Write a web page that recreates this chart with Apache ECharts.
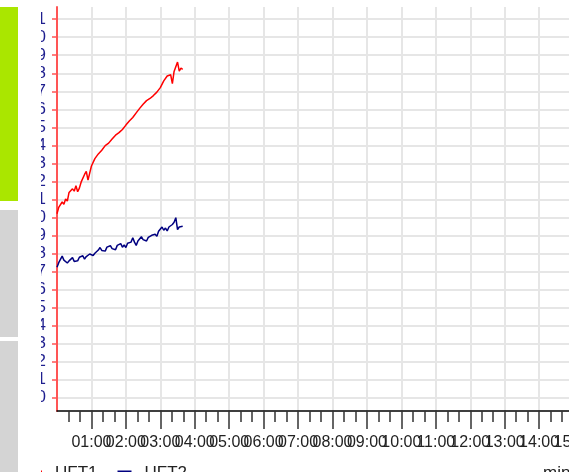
<!DOCTYPE html>
<html>
<head>
<meta charset="utf-8">
<script src="https://cdn.jsdelivr.net/npm/echarts@6/dist/echarts.min.js"></script>
<style>
  html, body { margin: 0; padding: 0; background: #fff; width: 569px; height: 472px; overflow: hidden; }
  .panel { position: absolute; left: 0; width: 18px; }
  #chart { position: absolute; left: 41px; top: 0; width: 528px; height: 472px; }
</style>
</head>
<body>
<div class="panel" style="top:7px;height:194px;background:#aae600;"></div>
<div class="panel" style="top:210px;height:127px;background:#d4d4d4;"></div>
<div class="panel" style="top:341px;height:131px;background:#d4d4d4;"></div>
<div id="chart"></div>
<script>
// time in minutes
const minutes = [0,0.05,0.1,0.15,0.2,0.25,0.3,0.35,0.4,0.45,0.5,0.55,0.6,0.65,0.7,0.75,0.8,0.85,0.9,0.95,
  1,1.05,1.1,1.15,1.2,1.25,1.3,1.35,1.4,1.45,1.5,1.55,1.6,1.65,1.7,1.75,1.8,1.85,1.9,1.95,
  2,2.05,2.1,2.15,2.2,2.25,2.3,2.35,2.4,2.45,2.5,2.55,2.6,2.65,2.7,2.75,2.8,2.85,2.9,2.95,
  3,3.05,3.1,3.15,3.2,3.25,3.3,3.35,3.4,3.45,3.5,3.55,3.6,3.65];
const uft1 = [30.20,30.55,30.48,30.85,30.72,31.02,30.90,31.38,31.30,31.58,
  31.45,31.75,31.42,31.62,31.95,31.88,32.38,32.55,32.06,32.45,
  32.85,32.92,33.26,33.18,33.52,33.45,33.72,33.66,33.98,33.88,
  34.12,34.04,34.35,34.30,34.56,34.47,34.70,34.62,34.88,34.86,
  35.12,35.08,35.35,35.28,35.54,35.48,35.80,35.74,36.05,36.02,
  36.28,36.20,36.48,36.38,36.60,36.52,36.76,36.70,36.95,36.90,
  37.20,37.16,37.58,37.62,37.85,37.78,37.92,37.42,38.10,38.20,
  38.62,38.12,38.28,38.22];
const uft2 = [27.22,27.48,27.55,27.84,27.62,27.70,27.46,27.58,27.52,27.76,
  27.55,27.66,27.58,27.78,27.70,27.86,27.68,27.82,27.74,27.96,
  28.04,27.88,28.00,27.96,28.18,28.32,28.16,28.26,28.12,28.34,
  28.24,28.42,28.26,28.36,28.20,28.44,28.36,28.54,28.34,28.46,
  28.32,28.56,28.46,28.62,28.86,28.62,28.44,28.68,28.66,28.92,
  28.76,28.86,28.68,28.88,28.80,29.00,28.90,29.06,28.94,29.22,
  29.20,29.46,29.28,29.40,29.24,29.46,29.38,29.60,29.72,29.98,
  29.32,29.46,29.40,29.50];
const yTicks = [20,21,22,23,24,25,26,27,28,29,30,31,32,33,34,35,36,37,38,39,40,41];
const xTicks = [1,2,3,4,5,6,7,8,9,10,11,12,13,14,15,16];
const xLabelValues = [0,1,2,3,4,5,6,7,8,9,10,11,12,13,14,15,16]; // 0 carries an empty label
const seriesNames = ['UFT1', 'UFT2'];
const xAxisName = 'min';

const regular = '"Liberation Sans", Arial, sans-serif';
const pad2 = v => (v < 10 ? '0' : '') + v;

const chart = echarts.init(document.getElementById('chart'), null, { renderer: 'canvas' });
chart.setOption({
  animation: false,
  backgroundColor: '#fff',
  grid: { left: 16, top: 7, width: 551, height: 404, containLabel: false, outerBoundsMode: 'none' },
  legend: {
    left: -13, top: 465, padding: 0, itemWidth: 14, itemHeight: 6, itemGap: 20, icon: 'rect',
    textStyle: { fontSize: 17, color: '#222', padding: [0, 0, 0, 8], fontFamily: regular },
    data: seriesNames
  },
  xAxis: {
    type: 'value', min: 0, max: 16, interval: 1,
    axisLine: { show: true, onZero: false, lineStyle: { color: '#000', width: 1.5 } },
    axisTick: { show: true, length: 18, customValues: xTicks, lineStyle: { color: '#333', width: 1.5 } },
    minorTick: { show: true, splitNumber: 3, length: 11, lineStyle: { color: '#333', width: 1.5 } },
    axisLabel: { customValues: xLabelValues, formatter: v => (v === 0 ? ' ' : pad2(v) + ':00'), margin: 24, hideOverlap: false,
      fontFamily: regular, fontSize: 16, color: '#222' },
    splitLine: { show: true, lineStyle: { color: '#e6e6e6', width: 2 } },
    name: xAxisName, nameLocation: 'end', nameGap: -65,
    nameTextStyle: { align: 'left', verticalAlign: 'top', padding: [54, 0, 0, 0], fontSize: 17, color: '#222', fontFamily: regular }
  },
  yAxis: {
    type: 'value', min: 19.24, max: 41.68,
    axisLine: { show: true, onZero: false, lineStyle: { color: '#ff5555', width: 2 } },
    axisTick: { show: true, inside: false, length: 5, customValues: yTicks, lineStyle: { color: '#ff5555', width: 1.5 } },
    axisLabel: { customValues: yTicks, margin: 11, hideOverlap: false, showMinLabel: true, showMaxLabel: true,
      fontSize: 17, color: '#1f1f8f', fontFamily: regular },
    splitLine: { show: true, lineStyle: { color: '#e6e6e6', width: 2 } }
  },
  series: [
    { name: seriesNames[0], type: 'line', showSymbol: false, symbol: 'none',
      data: minutes.map((t, i) => [t, uft1[i]]),
      lineStyle: { color: '#ff0000', width: 1.5 }, itemStyle: { color: '#ff0000' } },
    { name: seriesNames[1], type: 'line', showSymbol: false, symbol: 'none',
      data: minutes.map((t, i) => [t, uft2[i]]),
      lineStyle: { color: '#000080', width: 1.5 }, itemStyle: { color: '#000080' } }
  ]
});
</script>
</body>
</html>
